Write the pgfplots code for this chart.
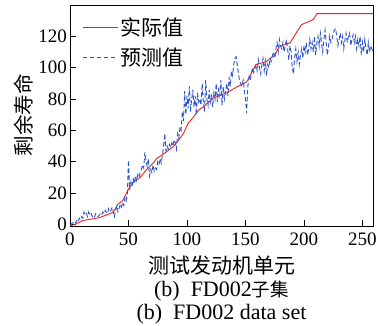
\documentclass[border=0pt]{standalone}
\usepackage{fontspec}
\setmainfont{Liberation Serif}
\newfontfamily\cjk{Noto Sans CJK SC}
\usepackage{pgfplots}
\pgfplotsset{compat=1.18}
\definecolor{actred}{RGB}{245,30,30}
\definecolor{predblue}{RGB}{45,85,200}
\begin{document}
\begin{tikzpicture}
\begin{axis}[
  name=ax,
  scale only axis,
  width=303pt, height=221pt,
  xmin=0, xmax=259, ymin=-1, ymax=140,
  xtick={0,50,100,150,200,250},
  ytick={0,20,40,60,80,100,120},
  tick align=inside,
  xtick pos=bottom, ytick pos=left,
  major tick length=6pt,
  axis line style={line width=0.9pt},
  tick style={line width=0.8pt, black},
  /pgf/number format/assume math mode=true,
  ticklabel style={font=\fontsize{19}{19}\selectfont, inner sep=1pt},
  yticklabel style={xshift=-2pt},
  xticklabel style={yshift=-5.5pt},
  xlabel={\cjk\fontsize{21}{21}\selectfont 测试发动机单元},
  xlabel style={at={(axis description cs:0.5,-0.181)}, anchor=center},
  ylabel={\cjk\fontsize{20.5}{20.5}\selectfont 剩余寿命},
  ylabel style={at={(axis description cs:-0.152,0.5)}, anchor=center},
  legend style={draw=none, fill=none, at={(axis description cs:0.040,0.953)}, anchor=north west,
    font=\cjk\fontsize{21}{21}\selectfont, row sep=7pt, inner sep=0pt,
    nodes={inner sep=2pt}},
  legend cell align=left,
  legend image code/.code={\draw[#1] (0pt,0pt) -- (35pt,0pt);},
]
\addplot[actred, line width=0.9pt] coordinates {
(0,-1) (4,0) (11,2.5) (25,4.3) (37,7.7) (41,13) (45,15) (48,19.6) (51,24) (54,27) (60,30) (65,34.6) (71,39) (74,42) (80,45) (88,49.5) (92,53) (97,58) (101,64.5) (105,68) (110,73) (115,75.6) (122,80.5) (134,84) (142,87.5) (151,91) (159,102) (168,104) (175,108) (179,113.6) (188,115.7) (194,123) (198,127.5) (208,130.7) (211,134.5) (259,134.5)
};
\addlegendentry{实际值}
\addplot[predblue, line width=0.9pt, dash pattern=on 4.5pt off 2.5pt] coordinates {
(0,0) (1,0) (2,1) (3,1) (4,2) (5,1) (6,3) (7,2) (8,4) (9,3) (10,5) (11,4) (12,8) (13,6) (14,7) (15,5) (16,8) (17,6) (18,7) (19,5) (20,6) (21,5) (22,7) (23,6) (24,5) (25,6) (26,7) (27,6) (28,8) (29,7) (30,9) (31,8) (32,7) (33,10) (34,8) (35,9) (36,11) (37,8) (38,5) (39,9) (40,12) (41,8) (42,10) (43,13) (44,11) (45,14) (46,12) (47,17) (48,15) (49,19) (50,41) (51,22) (52,27) (53,24) (54,29) (55,26) (56,31) (57,28) (58,32) (59,30) (60,33) (61,35) (62,38) (63,36) (64,46) (65,40) (66,37) (67,42) (68,31) (69,35) (70,33) (71,38) (72,34) (73,36) (74,35) (75,40) (76,38) (77,42) (78,39) (79,44) (80,50) (81,58) (82,47) (83,50) (84,48) (85,51) (86,49) (87,52) (88,50) (89,54) (90,52) (91,48) (92,58) (93,55) (94,62) (95,60) (96,72) (97,66) (98,85) (99,70) (100,82) (101,74) (102,88) (103,72) (104,80) (105,86) (106,75) (107,82) (108,70) (109,84) (110,78) (111,80) (112,76) (113,90) (114,78) (115,72) (116,92) (117,80) (118,76) (119,86) (120,78) (121,82) (122,75) (123,84) (124,80) (125,90) (126,78) (127,86) (128,82) (129,92) (130,76) (131,88) (132,80) (133,85) (134,90) (135,82) (136,94) (137,88) (138,98) (139,95) (140,102) (141,106) (142,107) (143,102) (144,96) (145,92) (146,90) (147,88) (148,92) (149,86) (150,80) (151,71) (152,88) (153,94) (154,92) (155,96) (156,100) (157,97) (158,99) (159,102) (160,98) (161,105) (162,100) (163,96) (164,102) (165,106) (166,98) (167,104) (168,95) (169,102) (170,100) (171,106) (172,104) (173,108) (174,110) (175,106) (176,112) (177,116) (178,110) (179,118) (180,114) (181,112) (182,116) (183,110) (184,114) (185,118) (186,112) (187,105) (188,114) (189,110) (190,100) (191,96) (192,106) (193,112) (194,104) (195,110) (196,102) (197,108) (198,112) (199,106) (200,114) (201,110) (202,116) (203,108) (204,112) (205,118) (206,112) (207,116) (208,110) (209,120) (210,108) (211,116) (212,120) (213,114) (214,122) (215,116) (216,110) (217,118) (218,124) (219,116) (220,108) (221,114) (222,120) (223,116) (224,118) (225,122) (226,124) (227,125) (228,120) (229,114) (230,118) (231,122) (232,116) (233,120) (234,112) (235,118) (236,122) (237,116) (238,120) (239,122) (240,114) (241,118) (242,121) (243,116) (244,120) (245,112) (246,118) (247,114) (248,120) (249,108) (250,116) (251,110) (252,118) (253,112) (254,108) (255,116) (256,110) (257,114) (258,112) (259,110)
};
\addlegendentry{预测值}
\end{axis}
\node[anchor=center, inner sep=0pt] at ([yshift=-65pt]ax.south)
  {\fontsize{22}{22}\selectfont (b)\ \ FD002{\cjk\fontsize{18.5}{18.5}\selectfont 子集}};
\node[anchor=center, inner sep=0pt] at ([yshift=-88pt]ax.south)
  {\fontsize{22}{22}\selectfont (b)\ \ FD002 data set};
\pgfresetboundingbox
\path ([xshift=-70pt,yshift=-100pt]ax.south west) rectangle ([xshift=5pt,yshift=5pt]ax.north east);
\end{tikzpicture}
\end{document}
